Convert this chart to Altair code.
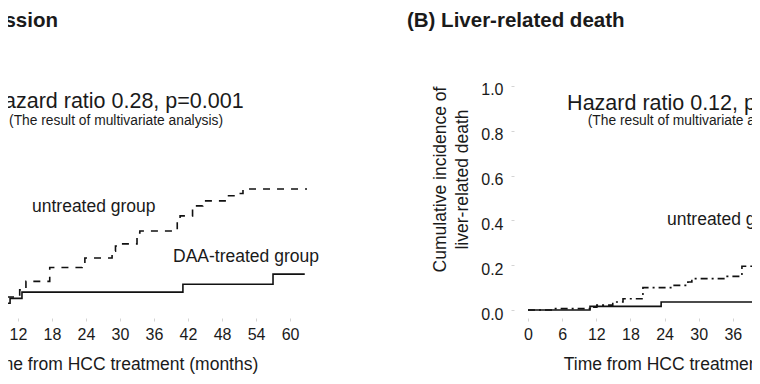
import altair as alt
import pandas as pd

# ---------------- data ----------------
# Panel A: cumulative incidence (left panel, left part cropped away)
a_untreated_t = [0, 4, 8, 10.1, 12.3, 13.4, 17.6, 23.3, 23.8, 28.6, 29.2, 29.5, 33.0, 33.5,
                 39.5, 40.1, 40.6, 42.8, 44.6, 49.0, 50.8, 51.7, 63.0]
a_untreated_v = [0, 0.015, 0.035, 0.058, 0.09, 0.128, 0.19, 0.21, 0.232, 0.263, 0.286, 0.295,
                 0.344, 0.353, 0.36, 0.40, 0.42, 0.465, 0.487, 0.51, 0.52, 0.54, 0.54]
a_daa_t = [0, 4, 8, 9.4, 10.6, 12.7, 41.1, 57.0, 62.6]
a_daa_v = [0, 0.008, 0.015, 0.03, 0.052, 0.08, 0.115, 0.16, 0.16]

# Panel B: liver-related death (right panel, right part cropped away)
b_untreated_t = [0, 4.4, 10.9, 12.1, 14.9, 16.7, 20.2, 25.5, 28.1, 28.8, 35.0, 37.6, 41.5]
b_untreated_v = [0, 0.006, 0.013, 0.022, 0.036, 0.05, 0.10, 0.11, 0.125, 0.14, 0.15, 0.195, 0.20]
b_daa_t = [0, 10.9, 23.4, 41.5]
b_daa_v = [0, 0.016, 0.036, 0.036]

x_ticks = [0, 6, 12, 18, 24, 30, 36, 42, 48, 54, 60]
y_ticks = [0.0, 0.2, 0.4, 0.6, 0.8, 1.0]

title_a = "(A) Liver disease progression"
title_b = "(B) Liver-related death"
hr_a = "Hazard ratio 0.28, p=0.001"
hr_b = "Hazard ratio 0.12, p=0.001"
sub_txt = "(The result of multivariate analysis)"
lab_untreated = "untreated group"
lab_daa = "DAA-treated group"
x_title = "Time from HCC treatment (months)"
y_title = ["Cumulative incidence of", "liver-related death"]

# ---------------- layout / style ----------------
W, H = 744, 310          # plot area; 58px below it for the x axes (total 744 x 368)
A_DOMAIN = [10.235, 141.52]
B_DOMAIN = [-91.39, 39.37]
Y_DOMAIN = [-0.0357, 1.3482]
FONT = "Liberation Sans"
INK = "#1a1a1a"
LINE = "#111111"

yaxis = alt.Axis(values=y_ticks, format=".1f", orient="left", offset=-506,
                 domain=False, grid=False, tickSize=3, tickColor="#d4d4d4",
                 labelFontSize=16, labelColor=INK, labelPadding=8, labelOffset=4,
                 labelFont=FONT, titleFont=FONT, labelFlush=False, labelOverlap=False,
                 title=y_title, titleFontSize=17.5, titleFontWeight="normal", titleColor=INK,
                 titleX=-69, titleY=171, titleBaseline="alphabetic", titleAlign="center",
                 titleLineHeight=22)


def yenc():
    return alt.Y("v:Q", scale=alt.Scale(domain=Y_DOMAIN, nice=False, zero=False), axis=yaxis)


def xenc(domain, axis=None):
    return alt.X("t:Q", scale=alt.Scale(domain=domain, nice=False, zero=False), axis=axis)


def xaxis(title_x):
    return alt.Axis(values=x_ticks, title=x_title, orient="bottom",
                    domain=False, grid=False, tickSize=3, tickColor="#d4d4d4",
                    labelFontSize=16, labelColor=INK, labelPadding=18,
                    labelBaseline="alphabetic", labelFlush=False, labelOverlap=False,
                    labelFont=FONT, titleFont=FONT,
                    titleFontSize=17.5, titleFontWeight="normal", titleColor=INK,
                    titleX=title_x, titleY=51, titleBaseline="alphabetic")


def curve(ts, vs, domain, xaxis_def=None, dash=None):
    df = pd.DataFrame({"t": ts, "v": vs})
    kw = dict(interpolate="step-after", color=LINE, strokeWidth=1.6)
    if dash is not None:
        kw["strokeDash"] = dash
    return alt.Chart(df).mark_line(**kw).encode(x=xenc(domain, xaxis_def), y=yenc())


def label(text, t, v, size, domain, weight="normal", align="left"):
    df = pd.DataFrame({"t": [t], "v": [v], "label": [text]})
    return alt.Chart(df).mark_text(
        align=align, baseline="alphabetic", fontSize=size, fontWeight=weight,
        font=FONT, color=INK).encode(x=xenc(domain), y=yenc(), text="label:N")


layers = [
    curve(a_daa_t, a_daa_v, A_DOMAIN, xaxis_def=xaxis(113)),
    curve(a_untreated_t, a_untreated_v, A_DOMAIN, dash=[7, 7]),
    label(title_a, 19.06, 1.263, 20.5, A_DOMAIN, weight="bold", align="right"),
    label(hr_a, 29.3, 0.902, 21.5, A_DOMAIN, align="center"),
    label(sub_txt, 29.3, 0.826, 13.8, A_DOMAIN, align="center"),
    label(lab_untreated, 14.47, 0.4375, 17.5, A_DOMAIN),
    label(lab_daa, 39.35, 0.214, 17.5, A_DOMAIN),
    curve(b_daa_t, b_daa_v, B_DOMAIN, xaxis_def=xaxis(692)),
    curve(b_untreated_t, b_untreated_v, B_DOMAIN, dash=[7, 4, 2, 4]),
    label(title_b, -21.27, 1.263, 20.5, B_DOMAIN, weight="bold"),
    label(hr_b, 29.3, 0.893, 21.5, B_DOMAIN, align="center"),
    label(sub_txt, 29.3, 0.826, 13.8, B_DOMAIN, align="center"),
    label(lab_untreated, 24.43, 0.379, 17.5, B_DOMAIN),
]

chart = alt.layer(*layers).resolve_scale(x="independent").properties(
    width=W, height=H,
    padding={"left": 0, "top": 0, "right": 0, "bottom": 58},
    autosize=alt.AutoSizeParams(type="none"),
).configure(font=FONT).configure_view(stroke=None)

chart.save("out.html", embed_options={"renderer": "svg", "actions": False})
